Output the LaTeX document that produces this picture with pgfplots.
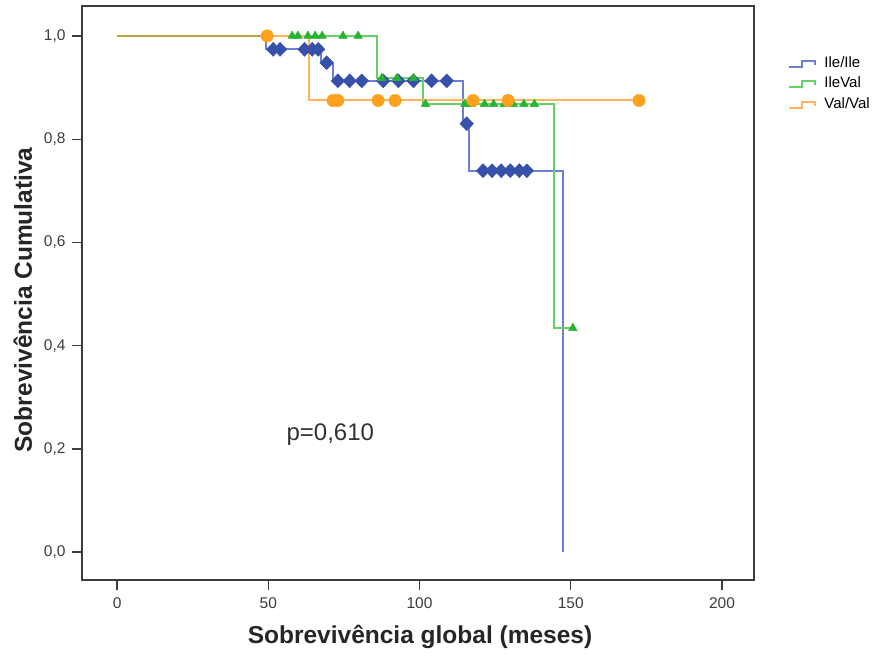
\documentclass[border=0pt]{standalone}
\usepackage{pgfplots}
\pgfplotsset{compat=1.18}
\usepackage{fontspec}
\setmainfont{Liberation Sans}

\definecolor{bline}{RGB}{110,128,212}
\definecolor{bmark}{RGB}{55,80,170}
\definecolor{gline}{RGB}{100,210,100}
\definecolor{gmark}{RGB}{40,180,50}
\definecolor{oline}{RGB}{255,182,90}
\definecolor{omark}{RGB}{255,160,30}
\definecolor{olive}{RGB}{182,168,64}
\definecolor{axgray}{RGB}{60,60,60}

\begin{document}
\begin{tikzpicture}
\begin{axis}[
  scale only axis,
  width=672pt, height=574pt,
  xmin=-11.6, xmax=210.6,
  ymin=-0.054, ymax=1.058,
  xtick={0,50,100,150,200},
  ytick={0,0.2,0.4,0.6,0.8,1.0},
  yticklabel style={xshift=-3pt, /pgf/number format/.cd, fixed, fixed zerofill, precision=1, use comma},
  /pgf/number format/assume math mode=true,
  tick align=outside, tick pos=left,
  major tick length=10pt,
  axis line style={axgray, line width=1.5pt},
  every tick/.style={axgray, line width=1.3pt},
  ticklabel style={font=\fontsize{15.5}{15.5}\selectfont, text=axgray},
  xticklabel style={yshift=-4pt},
  xlabel={Sobrevivência global (meses)},
  ylabel={Sobrevivência Cumulativa},
  label style={font=\bfseries\fontsize{24.5}{24.5}\selectfont, text=black!85},
  xlabel style={at={(axis description cs:0.503,-0.099)}, anchor=center},
  ylabel style={at={(axis description cs:-0.088,0.488)}, anchor=center},
  legend style={draw=none, fill=none, at={(1.051,0.916)}, anchor=north west,
    font=\fontsize{15}{15}\selectfont, row sep=1.5pt, inner sep=0pt,
    nodes={text height=11pt, text depth=4pt}},
  legend cell align=left,
  legend image code/.code={\draw[#1] (0pt,-3pt) -- (13pt,-3pt) -- (13pt,3pt) -- (26pt,3pt) -- (26pt,-1pt);},
  clip=false,
]
\addplot[const plot, bline, line width=2pt] coordinates {
  (0,1) (49.3,0.974) (67.5,0.948) (71.4,0.913) (114.4,0.830) (116.4,0.739) (147.4,0.739) (147.4,0)
};
\addplot[const plot, gline, line width=2pt] coordinates {
  (0,1) (85.8,0.918) (101.3,0.868) (144.6,0.434) (150.7,0.434)
};
\addplot[const plot, oline, line width=2pt] coordinates {
  (0,1) (63.5,0.875) (172.6,0.875)
};
\legend{\hspace{6pt}Ile/Ile, \hspace{6pt}IleVal, \hspace{6pt}Val/Val}

\addplot[olive, line width=2pt, forget plot] coordinates {(0,1) (49.3,1)};

\addplot[only marks, mark=diamond*, mark size=7pt, color=bmark,
  mark options={xscale=1.3}, forget plot] coordinates {
  (51.6,0.974) (53.9,0.974) (62,0.974) (64.5,0.974) (66.5,0.974)
  (69.3,0.948)
  (73,0.913) (76.9,0.913) (80.9,0.913) (88,0.913) (93,0.913) (98,0.913)
  (104,0.913) (109,0.913)
  (115.6,0.830)
  (121,0.739) (124,0.739) (127,0.739) (130,0.739) (133,0.739) (135.5,0.739)
};
\addplot[only marks, mark=triangle*, mark size=5pt, color=gmark, forget plot] coordinates {
  (57.9,1) (59.8,1) (63.1,1) (65.5,1) (67.8,1) (74.7,1) (79.7,1)
  (87.5,0.918) (92.5,0.918) (98,0.918)
  (102,0.868) (115,0.868) (117,0.868) (121.5,0.868) (124.5,0.868) (128,0.868)
  (131,0.868) (134.5,0.868) (138,0.868)
  (150.7,0.434)
};
\addplot[only marks, mark=*, mark size=6.2pt, color=omark, forget plot] coordinates {
  (49.6,1) (71.4,0.875) (73,0.875) (86.3,0.875) (91.9,0.875) (117.7,0.875)
  (129.3,0.875) (172.6,0.875)
};

\node[font=\fontsize{24}{24}\selectfont, text=black!80] at (axis cs:70.5,0.227) {p=0,610};
\end{axis}
\pgfresetboundingbox
\path[use as bounding box] (-82pt,-79pt) rectangle (802pt,580pt);
\end{tikzpicture}
\end{document}
